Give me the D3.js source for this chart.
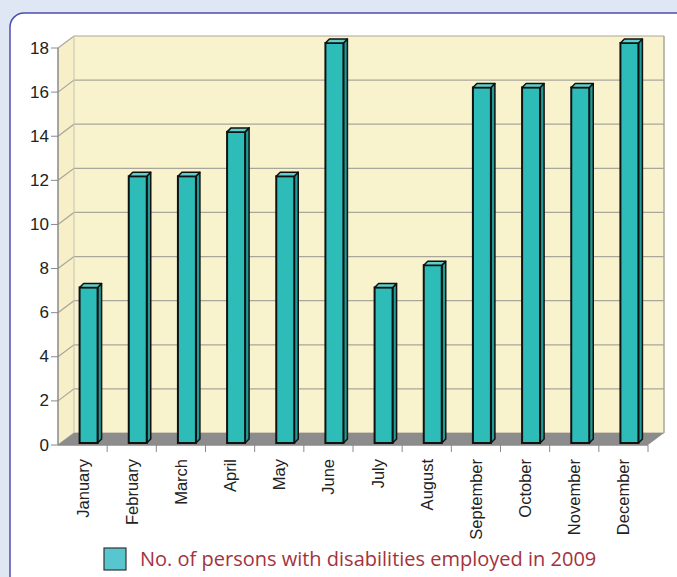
<!DOCTYPE html>
<html>
<head>
<meta charset="utf-8">
<script src="https://cdn.jsdelivr.net/npm/d3@7"></script>
<style>
  body { margin: 0; background: #dfe6f4; }
  svg { display: block; }
</style>
</head>
<body>
<div id="chart"></div>
<script>
// data
const months = ['January', 'February', 'March', 'April', 'May', 'June',
                'July', 'August', 'September', 'October', 'November', 'December'];
const employed = [7, 12, 12, 14, 12, 18, 7, 8, 16, 16, 16, 18];
const yTicks = [0, 2, 4, 6, 8, 10, 12, 14, 16, 18];
const legendLabel = 'No. of persons with disabilities employed in 2009';

const width = 677, height = 577;
const dx = 16, dy = -12;   // depth of the 3d box

const svg = d3.select('#chart').append('svg')
    .attr('width', width)
    .attr('height', height);

// white panel with the blue border
svg.append('rect')
    .attr('x', 10).attr('y', 13)
    .attr('width', 700).attr('height', 600)
    .attr('rx', 14)
    .style('fill', '#ffffff')
    .style('stroke', '#4d4db3')
    .style('stroke-width', 1.5);

const x = d3.scaleBand().domain(months).range([58, 648]);
const y = d3.scaleLinear().domain([0, 18]).range([445, 48]);
// bars stand in the middle of the depth
const yBar = d3.scaleLinear().domain([0, 18]).range([443, 43]);

const x0 = x.range()[0], x1 = x.range()[1];

// left wall
svg.append('polygon')
    .attr('points', [[x0, y(0)], [x0, y(18)], [x0 + dx, y(18) + dy], [x0 + dx, y(0) + dy]].join(' '))
    .style('fill', '#f6efc7');
// back wall
svg.append('rect')
    .attr('x', x0 + dx).attr('y', y(18) + dy)
    .attr('width', x1 - x0).attr('height', y(0) - y(18))
    .style('fill', '#f8f2cd');

// grid lines
yTicks.forEach(t => {
    svg.append('polyline')
        .attr('points', [[x0, y(t)], [x0 + dx, y(t) + dy], [x1 + dx, y(t) + dy]].join(' '))
        .style('fill', 'none')
        .style('stroke', '#a9a69a')
        .style('stroke-width', 1.2);
});
svg.append('line')
    .attr('x1', x1 + dx).attr('y1', y(18) + dy)
    .attr('x2', x1 + dx).attr('y2', y(0) + dy)
    .style('stroke', '#a9a69a').style('stroke-width', 1.5);
svg.append('line')
    .attr('x1', x0 + dx).attr('y1', y(18) + dy)
    .attr('x2', x0 + dx).attr('y2', y(0) + dy)
    .style('stroke', '#c8c4b4').style('stroke-width', 1);

// floor
svg.append('polygon')
    .attr('points', [[x0, y(0)], [x1, y(0)], [x1 + dx, y(0) + dy], [x0 + dx, y(0) + dy]].join(' '))
    .style('fill', '#8c8c8c');

// axes lines
svg.append('line')
    .attr('x1', x0).attr('y1', y(0)).attr('x2', x0).attr('y2', y(18))
    .style('stroke', '#8a8a8a').style('stroke-width', 1.5);
svg.append('line')
    .attr('x1', x0).attr('y1', y(0)).attr('x2', x1).attr('y2', y(0))
    .style('stroke', '#8a8a8a').style('stroke-width', 1.5);

// y ticks + labels
yTicks.forEach(t => {
    svg.append('line')
        .attr('x1', x0 - 7).attr('x2', x0).attr('y1', y(t)).attr('y2', y(t))
        .style('stroke', '#8a8a8a');
    svg.append('text')
        .attr('x', x0 - 9).attr('y', y(t))
        .attr('text-anchor', 'end')
        .attr('dominant-baseline', 'central')
        .style('font-family', 'Liberation Sans, Arial, sans-serif')
        .style('font-size', '17px')
        .style('fill', '#222')
        .text(t);
});

// x ticks between categories
months.forEach((m, i) => {
    const xt = x(m) + x.bandwidth();
    svg.append('line')
        .attr('x1', xt).attr('x2', xt).attr('y1', y(0)).attr('y2', y(0) + 7)
        .style('stroke', '#8a8a8a');
});

// month labels
months.forEach(m => {
    const cx = x(m) + x.bandwidth() / 2;
    svg.append('text')
        .attr('transform', `translate(${cx},459) rotate(-90)`)
        .attr('text-anchor', 'end')
        .attr('dominant-baseline', 'central')
        .style('font-family', 'Liberation Sans, Arial, sans-serif')
        .style('font-size', '16.5px')
        .style('fill', '#222')
        .text(m);
});

// bars
const bw = 18, bd = 4, bh = -4;
months.forEach((m, i) => {
    const bx = x(m) + x.bandwidth() / 2 + 6 - bw / 2;
    const top = yBar(employed[i]);
    const bottom = yBar(0);
    // side face
    svg.append('polygon')
        .attr('points', [[bx + bw, bottom], [bx + bw, top], [bx + bw + bd, top + bh], [bx + bw + bd, bottom + bh]].join(' '))
        .style('fill', '#1f9c98')
        .style('stroke', '#111').style('stroke-width', 1.5).style('stroke-linejoin', 'round');
    // front face
    svg.append('rect')
        .attr('x', bx).attr('y', top)
        .attr('width', bw).attr('height', bottom - top)
        .style('fill', '#2dbcb7')
        .style('stroke', '#111').style('stroke-width', 2);
    // top face
    svg.append('polygon')
        .attr('points', [[bx, top], [bx + bw, top], [bx + bw + bd, top + bh], [bx + bd, top + bh]].join(' '))
        .style('fill', '#5fd0cb')
        .style('stroke', '#111').style('stroke-width', 1.5).style('stroke-linejoin', 'round');
});

// legend
svg.append('rect')
    .attr('x', 104).attr('y', 548)
    .attr('width', 22).attr('height', 22)
    .style('fill', '#57c6cf')
    .style('stroke', '#333').style('stroke-width', 1.2);
svg.append('text')
    .attr('x', 140).attr('y', 566)
    .style('font-family', 'Open Sans, Noto Sans, sans-serif')
    .style('font-size', '20px')
    .style('fill', '#a3333d')
    .text(legendLabel);
</script>
</body>
</html>
